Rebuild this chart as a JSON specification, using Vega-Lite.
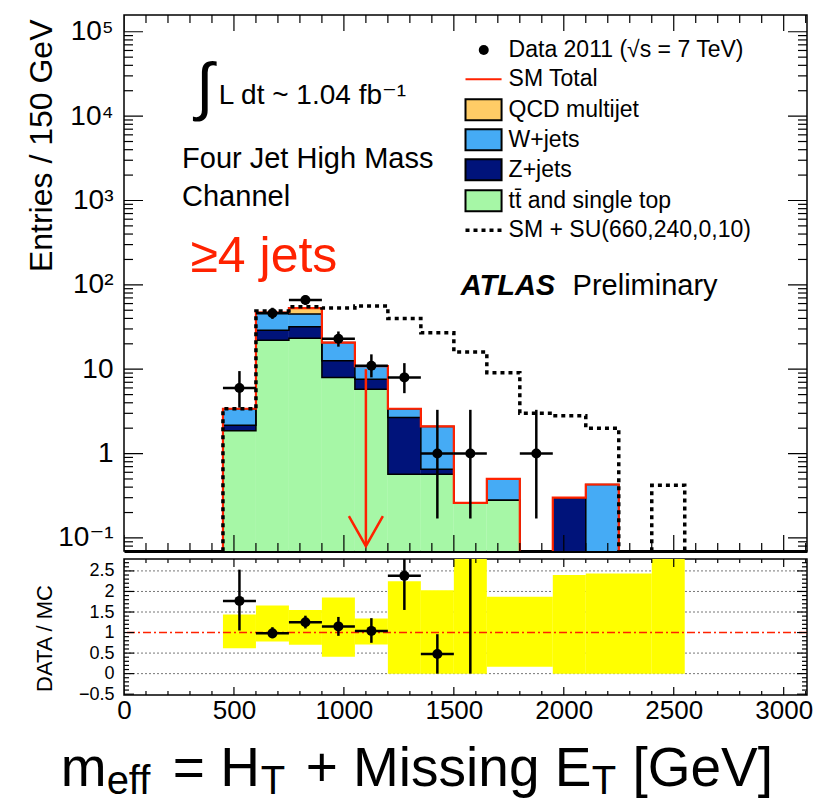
{
  "$schema": "https://vega.github.io/schema/vega-lite/v6.json",
  "padding": {"left": 24, "top": 14, "right": 0, "bottom": 0},
  "spacing": 8,
  "bounds": "flush",
  "config": {
    "font": "Liberation Sans, DejaVu Sans",
    "view": {"stroke": "#000", "strokeWidth": 1.5},
    "axis": {"grid": false, "domain": false, "ticks": false, "zindex": 1, "labelColor": "#000", "titleColor": "#000", "titleFontWeight": "normal", "labelOverlap": false}
  },
  "datasets": {
    "hist": [
      {"x0": 450, "x1": 600, "c": "tt", "lo": 0.01, "hi": 1.86},
      {"x0": 450, "x1": 600, "c": "Z", "lo": 1.86, "hi": 2.17},
      {"x0": 450, "x1": 600, "c": "W", "lo": 2.17, "hi": 3.4},
      {"x0": 600, "x1": 750, "c": "tt", "lo": 0.01, "hi": 22},
      {"x0": 600, "x1": 750, "c": "Z", "lo": 22, "hi": 29},
      {"x0": 600, "x1": 750, "c": "W", "lo": 29, "hi": 47},
      {"x0": 750, "x1": 900, "c": "tt", "lo": 0.01, "hi": 23.3},
      {"x0": 750, "x1": 900, "c": "Z", "lo": 23.3, "hi": 31.8},
      {"x0": 750, "x1": 900, "c": "W", "lo": 31.8, "hi": 45},
      {"x0": 750, "x1": 900, "c": "QCD", "lo": 45, "hi": 53},
      {"x0": 900, "x1": 1050, "c": "tt", "lo": 0.01, "hi": 8},
      {"x0": 900, "x1": 1050, "c": "Z", "lo": 8, "hi": 12.6},
      {"x0": 900, "x1": 1050, "c": "W", "lo": 12.6, "hi": 20.7},
      {"x0": 1050, "x1": 1200, "c": "tt", "lo": 0.01, "hi": 5.8},
      {"x0": 1050, "x1": 1200, "c": "Z", "lo": 5.8, "hi": 7.6},
      {"x0": 1050, "x1": 1200, "c": "W", "lo": 7.6, "hi": 10.9},
      {"x0": 1200, "x1": 1350, "c": "tt", "lo": 0.01, "hi": 0.57},
      {"x0": 1200, "x1": 1350, "c": "Z", "lo": 0.57, "hi": 2.67},
      {"x0": 1200, "x1": 1350, "c": "W", "lo": 2.67, "hi": 3.4},
      {"x0": 1350, "x1": 1500, "c": "tt", "lo": 0.01, "hi": 0.57},
      {"x0": 1350, "x1": 1500, "c": "Z", "lo": 0.57, "hi": 0.65},
      {"x0": 1350, "x1": 1500, "c": "W", "lo": 0.65, "hi": 2.1},
      {"x0": 1500, "x1": 1650, "c": "tt", "lo": 0.01, "hi": 0.26},
      {"x0": 1650, "x1": 1800, "c": "tt", "lo": 0.01, "hi": 0.28},
      {"x0": 1650, "x1": 1800, "c": "W", "lo": 0.28, "hi": 0.5},
      {"x0": 1950, "x1": 2100, "c": "Z", "lo": 0.01, "hi": 0.3},
      {"x0": 2100, "x1": 2250, "c": "W", "lo": 0.01, "hi": 0.43}
    ],
    "steps": [
      {"s": "tt", "x": 300, "y": 0.01}, {"s": "tt", "x": 450, "y": 1.86}, {"s": "tt", "x": 600, "y": 22}, {"s": "tt", "x": 750, "y": 23.3}, {"s": "tt", "x": 900, "y": 8}, {"s": "tt", "x": 1050, "y": 5.8}, {"s": "tt", "x": 1200, "y": 0.57}, {"s": "tt", "x": 1350, "y": 0.57}, {"s": "tt", "x": 1500, "y": 0.26}, {"s": "tt", "x": 1650, "y": 0.28}, {"s": "tt", "x": 1800, "y": 0.01},
      {"s": "Z", "x": 300, "y": 0.01}, {"s": "Z", "x": 450, "y": 2.17}, {"s": "Z", "x": 600, "y": 29}, {"s": "Z", "x": 750, "y": 31.8}, {"s": "Z", "x": 900, "y": 12.6}, {"s": "Z", "x": 1050, "y": 7.6}, {"s": "Z", "x": 1200, "y": 2.67}, {"s": "Z", "x": 1350, "y": 0.65}, {"s": "Z", "x": 1500, "y": 0.26}, {"s": "Z", "x": 1650, "y": 0.28}, {"s": "Z", "x": 1800, "y": 0.01}, {"s": "Z", "x": 1950, "y": 0.3}, {"s": "Z", "x": 2100, "y": 0.01},
      {"s": "W", "x": 300, "y": 0.01}, {"s": "W", "x": 450, "y": 3.4}, {"s": "W", "x": 600, "y": 47}, {"s": "W", "x": 750, "y": 45}, {"s": "W", "x": 900, "y": 20.7}, {"s": "W", "x": 1050, "y": 10.9}, {"s": "W", "x": 1200, "y": 3.4}, {"s": "W", "x": 1350, "y": 2.1}, {"s": "W", "x": 1500, "y": 0.26}, {"s": "W", "x": 1650, "y": 0.5}, {"s": "W", "x": 1800, "y": 0.01}, {"s": "W", "x": 1950, "y": 0.3}, {"s": "W", "x": 2100, "y": 0.43}, {"s": "W", "x": 2250, "y": 0.01},
      {"s": "sm", "x": 300, "y": 0.01}, {"s": "sm", "x": 450, "y": 3.4}, {"s": "sm", "x": 600, "y": 47}, {"s": "sm", "x": 750, "y": 53}, {"s": "sm", "x": 900, "y": 20.7}, {"s": "sm", "x": 1050, "y": 10.9}, {"s": "sm", "x": 1200, "y": 3.4}, {"s": "sm", "x": 1350, "y": 2.1}, {"s": "sm", "x": 1500, "y": 0.26}, {"s": "sm", "x": 1650, "y": 0.5}, {"s": "sm", "x": 1800, "y": 0.01}, {"s": "sm", "x": 1950, "y": 0.3}, {"s": "sm", "x": 2100, "y": 0.43}, {"s": "sm", "x": 2250, "y": 0.01},
      {"s": "su", "x": 300, "y": 0.01}, {"s": "su", "x": 450, "y": 3.4}, {"s": "su", "x": 600, "y": 49}, {"s": "su", "x": 750, "y": 55}, {"s": "su", "x": 900, "y": 53}, {"s": "su", "x": 1050, "y": 56}, {"s": "su", "x": 1200, "y": 40}, {"s": "su", "x": 1350, "y": 27}, {"s": "su", "x": 1500, "y": 16}, {"s": "su", "x": 1650, "y": 9.1}, {"s": "su", "x": 1800, "y": 3.0}, {"s": "su", "x": 1950, "y": 2.8}, {"s": "su", "x": 2100, "y": 2.0}, {"s": "su", "x": 2250, "y": 0.01}, {"s": "su", "x": 2400, "y": 0.42}, {"s": "su", "x": 2550, "y": 0.01}
    ],
    "pts": [
      {"x": 525, "a": 450, "b": 600, "n": 6, "lo": 3.5, "hi": 9.5},
      {"x": 675, "a": 600, "b": 750, "n": 46, "lo": 39.5, "hi": 53.5},
      {"x": 825, "a": 750, "b": 900, "n": 66, "lo": 58, "hi": 75},
      {"x": 975, "a": 900, "b": 1050, "n": 23, "lo": 18.5, "hi": 28},
      {"x": 1125, "a": 1050, "b": 1200, "n": 11, "lo": 8, "hi": 15},
      {"x": 1275, "a": 1200, "b": 1350, "n": 8, "lo": 5.2, "hi": 11.8},
      {"x": 1425, "a": 1350, "b": 1500, "n": 1, "lo": 0.17, "hi": 3.3},
      {"x": 1575, "a": 1500, "b": 1650, "n": 1, "lo": 0.17, "hi": 3.3},
      {"x": 1875, "a": 1800, "b": 1950, "n": 1, "lo": 0.17, "hi": 3.3}
    ],
    "rat": [
      {"x": 525, "a": 450, "b": 600, "r": 1.77, "lo": 1.05, "hi": 2.53},
      {"x": 675, "a": 600, "b": 750, "r": 0.98, "lo": 0.86, "hi": 1.13},
      {"x": 825, "a": 750, "b": 900, "r": 1.25, "lo": 1.1, "hi": 1.41},
      {"x": 975, "a": 900, "b": 1050, "r": 1.15, "lo": 0.92, "hi": 1.38},
      {"x": 1125, "a": 1050, "b": 1200, "r": 1.04, "lo": 0.75, "hi": 1.35},
      {"x": 1275, "a": 1200, "b": 1350, "r": 2.38, "lo": 1.55, "hi": 3.2},
      {"x": 1425, "a": 1350, "b": 1500, "r": 0.48, "lo": 0, "hi": 0.96},
      {"x": 1575, "a": 1500, "b": 1650, "r": 3.85, "lo": 0, "hi": 5}
    ],
    "band": [
      {"a": 450, "b": 600, "lo": 0.62, "hi": 1.44},
      {"a": 600, "b": 750, "lo": 0.78, "hi": 1.66},
      {"a": 750, "b": 900, "lo": 0.7, "hi": 1.55},
      {"a": 900, "b": 1050, "lo": 0.41, "hi": 1.85},
      {"a": 1050, "b": 1200, "lo": 0.71, "hi": 1.34},
      {"a": 1200, "b": 1350, "lo": 0, "hi": 2.25},
      {"a": 1350, "b": 1500, "lo": 0, "hi": 2.03},
      {"a": 1500, "b": 1650, "lo": 0, "hi": 3.5},
      {"a": 1650, "b": 1950, "lo": 0.17, "hi": 1.87},
      {"a": 1950, "b": 2100, "lo": 0, "hi": 2.4},
      {"a": 2100, "b": 2400, "lo": 0, "hi": 2.44},
      {"a": 2400, "b": 2550, "lo": 0, "hi": 3.5}
    ],
    "grid": [{"g": 0}, {"g": 0.5}, {"g": 1.5}, {"g": 2}, {"g": 2.5}],
    "xt": [{"v":0},{"v":100},{"v":200},{"v":300},{"v":400},{"v":500},{"v":600},{"v":700},{"v":800},{"v":900},{"v":1000},{"v":1100},{"v":1200},{"v":1300},{"v":1400},{"v":1500},{"v":1600},{"v":1700},{"v":1800},{"v":1900},{"v":2000},{"v":2100},{"v":2200},{"v":2300},{"v":2400},{"v":2500},{"v":2600},{"v":2700},{"v":2800},{"v":2900},{"v":3000},{"v":3100}],
    "yt": [{"v":0.08},{"v":0.09},{"v":0.1},{"v":0.2},{"v":0.3},{"v":0.4},{"v":0.5},{"v":0.6},{"v":0.7},{"v":0.8},{"v":0.9},{"v":1},{"v":2},{"v":3},{"v":4},{"v":5},{"v":6},{"v":7},{"v":8},{"v":9},{"v":10},{"v":20},{"v":30},{"v":40},{"v":50},{"v":60},{"v":70},{"v":80},{"v":90},{"v":100},{"v":200},{"v":300},{"v":400},{"v":500},{"v":600},{"v":700},{"v":800},{"v":900},{"v":1000},{"v":2000},{"v":3000},{"v":4000},{"v":5000},{"v":6000},{"v":7000},{"v":8000},{"v":9000},{"v":10000},{"v":20000},{"v":30000},{"v":40000},{"v":50000},{"v":60000},{"v":70000},{"v":80000},{"v":90000},{"v":100000}],
    "rt": [{"v":-0.5},{"v":-0.4},{"v":-0.3},{"v":-0.2},{"v":-0.1},{"v":0},{"v":0.1},{"v":0.2},{"v":0.3},{"v":0.4},{"v":0.5},{"v":0.6},{"v":0.7},{"v":0.8},{"v":0.9},{"v":1},{"v":1.1},{"v":1.2},{"v":1.3},{"v":1.4},{"v":1.5},{"v":1.6},{"v":1.7},{"v":1.8},{"v":1.9},{"v":2},{"v":2.1},{"v":2.2},{"v":2.3},{"v":2.4},{"v":2.5},{"v":2.6},{"v":2.7}]
  },
  "vconcat": [
    {
      "width": 683,
      "height": 536,
      "data": {"values": [{}]},
      "resolve": {"axis": {"x": "independent", "y": "independent"}},
      "layer": [
        {
          "layer": [
            {
              "data": {"name": "hist"},
              "mark": {"type": "rect", "clip": true},
              "encoding": {
                "x": {"field": "x0", "type": "quantitative", "scale": {"domain": [0, 3106], "nice": false, "zero": false},
                  "axis": {"orient": "bottom", "values": [0, 500, 1000, 1500, 2000, 2500, 3000], "labels": false, "ticks": false, "title": null, "domain": true, "domainWidth": 3, "domainColor": "#000"}},
                "x2": {"field": "x1"},
                "y": {"field": "lo", "type": "quantitative", "scale": {"type": "log", "domain": [0.07, 158000], "nice": false},
                  "axis": {"orient": "left", "values": [0.1, 1, 10, 100, 1000, 10000, 100000], "ticks": false,
                    "labelExpr": "abs(datum.value-100000)<1 ? '10⁵' : abs(datum.value-10000)<1 ? '10⁴' : abs(datum.value-1000)<0.5 ? '10³' : abs(datum.value-100)<0.5 ? '10²' : abs(datum.value-10)<0.05 ? '10' : abs(datum.value-1)<0.005 ? '1' : '10⁻¹'",
                    "labelFontSize": 28, "labelPadding": 11, "labelOverlap": false,
                    "title": "Entries / 150 GeV", "titleFontSize": 32, "titleAngle": 270, "titleX": -83, "titleY": 4, "titleAlign": "right", "titleBaseline": "middle"}},
                "y2": {"field": "hi"},
                "color": {"field": "c", "type": "nominal", "scale": {"domain": ["tt", "Z", "W", "QCD"], "range": ["#a6f7a6", "#00137a", "#45abf5", "#ffcc66"]}, "legend": null}
              }
            },
            {
              "data": {"name": "steps"},
              "transform": [{"filter": "datum.s != 'su' && datum.s != 'sm'"}],
              "mark": {"type": "line", "interpolate": "step-after", "clip": true, "color": "#000", "strokeWidth": 1.5},
              "encoding": {"x": {"field": "x", "type": "quantitative"}, "y": {"field": "y", "type": "quantitative"}, "detail": {"field": "s"}}
            },
            {
              "data": {"name": "steps"},
              "transform": [{"filter": "datum.s == 'sm'"}],
              "mark": {"type": "line", "interpolate": "step-after", "clip": true, "color": "#ff2200", "strokeWidth": 2.2},
              "encoding": {"x": {"field": "x", "type": "quantitative"}, "y": {"field": "y", "type": "quantitative"}}
            },
            {
              "data": {"name": "xt"}, "transform": [{"filter": "datum.v % 500 == 0"}],
              "mark": {"type": "tick", "orient": "vertical", "size": 32, "thickness": 1.2, "color": "#000", "opacity": 1, "clip": true},
              "encoding": {"x": {"field": "v", "type": "quantitative"}, "y": {"datum": 0.07}}
            },
            {
              "data": {"name": "xt"}, "transform": [{"filter": "datum.v % 500 != 0"}],
              "mark": {"type": "tick", "orient": "vertical", "size": 16, "thickness": 1.2, "color": "#000", "opacity": 1, "clip": true},
              "encoding": {"x": {"field": "v", "type": "quantitative"}, "y": {"datum": 0.07}}
            },
            {
              "data": {"name": "xt"}, "transform": [{"filter": "datum.v % 500 == 0"}],
              "mark": {"type": "tick", "orient": "vertical", "size": 32, "thickness": 1.2, "color": "#000", "opacity": 1, "clip": true},
              "encoding": {"x": {"field": "v", "type": "quantitative"}, "y": {"datum": 158000}}
            },
            {
              "data": {"name": "xt"}, "transform": [{"filter": "datum.v % 500 != 0"}],
              "mark": {"type": "tick", "orient": "vertical", "size": 16, "thickness": 1.2, "color": "#000", "opacity": 1, "clip": true},
              "encoding": {"x": {"field": "v", "type": "quantitative"}, "y": {"datum": 158000}}
            },
            {
              "data": {"name": "yt"}, "transform": [{"filter": "abs(log(datum.v)/LN10 - round(log(datum.v)/LN10)) < 0.001"}],
              "mark": {"type": "tick", "orient": "horizontal", "size": 38, "thickness": 1.2, "color": "#000", "opacity": 1, "clip": true},
              "encoding": {"y": {"field": "v", "type": "quantitative"}, "x": {"datum": 0}}
            },
            {
              "data": {"name": "yt"}, "transform": [{"filter": "abs(log(datum.v)/LN10 - round(log(datum.v)/LN10)) >= 0.001"}],
              "mark": {"type": "tick", "orient": "horizontal", "size": 18, "thickness": 1.2, "color": "#000", "opacity": 1, "clip": true},
              "encoding": {"y": {"field": "v", "type": "quantitative"}, "x": {"datum": 0}}
            },
            {
              "data": {"name": "yt"}, "transform": [{"filter": "abs(log(datum.v)/LN10 - round(log(datum.v)/LN10)) < 0.001"}],
              "mark": {"type": "tick", "orient": "horizontal", "size": 38, "thickness": 1.2, "color": "#000", "opacity": 1, "clip": true},
              "encoding": {"y": {"field": "v", "type": "quantitative"}, "x": {"datum": 3106}}
            },
            {
              "data": {"name": "yt"}, "transform": [{"filter": "abs(log(datum.v)/LN10 - round(log(datum.v)/LN10)) >= 0.001"}],
              "mark": {"type": "tick", "orient": "horizontal", "size": 18, "thickness": 1.2, "color": "#000", "opacity": 1, "clip": true},
              "encoding": {"y": {"field": "v", "type": "quantitative"}, "x": {"datum": 3106}}
            },
            {
              "data": {"name": "pts"},
              "mark": {"type": "rule", "clip": true, "color": "#000", "strokeWidth": 2.5},
              "encoding": {"x": {"field": "x", "type": "quantitative"}, "y": {"field": "lo", "type": "quantitative"}, "y2": {"field": "hi"}}
            },
            {
              "data": {"name": "pts"},
              "mark": {"type": "rule", "clip": true, "color": "#000", "strokeWidth": 2.5},
              "encoding": {"x": {"field": "a", "type": "quantitative"}, "x2": {"field": "b"}, "y": {"field": "n", "type": "quantitative"}}
            },
            {
              "data": {"name": "pts"},
              "mark": {"type": "point", "filled": true, "color": "#000", "size": 100, "opacity": 1},
              "encoding": {"x": {"field": "x", "type": "quantitative"}, "y": {"field": "n", "type": "quantitative"}}
            },
            {
              "mark": {"type": "rule", "color": "#ff2200", "strokeWidth": 2.5},
              "encoding": {"x": {"datum": 1100}, "y": {"datum": 10}, "y2": {"datum": 0.08}}
            },
            {
              "mark": {"type": "point", "shape": "M-1,-1.76L0,0L1,-1.76", "filled": false, "color": "#ff2200", "strokeWidth": 2.5, "size": 1156, "opacity": 1},
              "encoding": {"x": {"datum": 1100}, "y": {"datum": 0.08}}
            },
            {"mark": {"type": "text", "text": "∫", "fontSize": 64, "align": "center", "baseline": "middle"}, "encoding": {"x": {"datum": 367}, "y": {"datum": 21000}}},
            {"mark": {"type": "text", "text": "L dt ~ 1.04 fb⁻¹", "fontSize": 28, "align": "left", "baseline": "middle"}, "encoding": {"x": {"datum": 431}, "y": {"datum": 17300}}},
            {"mark": {"type": "text", "text": "Four Jet High Mass", "fontSize": 29, "align": "left", "baseline": "middle"}, "encoding": {"x": {"datum": 264}, "y": {"datum": 3100}}},
            {"mark": {"type": "text", "text": "Channel", "fontSize": 29, "align": "left", "baseline": "middle"}, "encoding": {"x": {"datum": 264}, "y": {"datum": 1100}}},
            {"mark": {"type": "text", "text": "≥4 jets", "fontSize": 50, "align": "left", "baseline": "middle", "color": "#ff2200"}, "encoding": {"x": {"datum": 302}, "y": {"datum": 214}}},
            {"mark": {"type": "text", "text": "ATLAS", "fontSize": 29, "fontWeight": "bold", "fontStyle": "italic", "align": "left", "baseline": "middle"}, "encoding": {"x": {"datum": 1531}, "y": {"datum": 97}}},
            {"mark": {"type": "text", "text": "Preliminary", "fontSize": 29, "align": "left", "baseline": "middle"}, "encoding": {"x": {"datum": 2040}, "y": {"datum": 97}}},
            {"mark": {"type": "point", "filled": true, "color": "#000", "size": 100, "opacity": 1}, "encoding": {"x": {"datum": 1636}, "y": {"datum": 60800}}},
            {"mark": {"type": "rule", "color": "#ff2200", "strokeWidth": 2}, "encoding": {"x": {"datum": 1553}, "x2": {"datum": 1717}, "y": {"datum": 27400}}},
            {"mark": {"type": "rect", "fill": "#ffcc66", "stroke": "#000", "strokeWidth": 2}, "encoding": {"x": {"datum": 1553}, "x2": {"datum": 1717}, "y": {"datum": 8960}, "y2": {"datum": 15890}}},
            {"mark": {"type": "rect", "fill": "#45abf5", "stroke": "#000", "strokeWidth": 2}, "encoding": {"x": {"datum": 1553}, "x2": {"datum": 1717}, "y": {"datum": 3950}, "y2": {"datum": 7006}}},
            {"mark": {"type": "rect", "fill": "#00137a", "stroke": "#000", "strokeWidth": 2}, "encoding": {"x": {"datum": 1553}, "x2": {"datum": 1717}, "y": {"datum": 1740}, "y2": {"datum": 3087}}},
            {"mark": {"type": "rect", "fill": "#a6f7a6", "stroke": "#000", "strokeWidth": 2}, "encoding": {"x": {"datum": 1553}, "x2": {"datum": 1717}, "y": {"datum": 747}, "y2": {"datum": 1326}}},
            {"mark": {"type": "rule", "color": "#000", "strokeWidth": 3.5, "strokeDash": [4, 4]}, "encoding": {"x": {"datum": 1553}, "x2": {"datum": 1717}, "y": {"datum": 444}}},
            {"mark": {"type": "text", "text": "Data 2011 (√s = 7 TeV)", "fontSize": 23, "align": "left", "baseline": "middle"}, "encoding": {"x": {"datum": 1749}, "y": {"datum": 60800}}},
            {"mark": {"type": "text", "text": "SM Total", "fontSize": 23, "align": "left", "baseline": "middle"}, "encoding": {"x": {"datum": 1749}, "y": {"datum": 27400}}},
            {"mark": {"type": "text", "text": "QCD multijet", "fontSize": 23, "align": "left", "baseline": "middle"}, "encoding": {"x": {"datum": 1749}, "y": {"datum": 11930}}},
            {"mark": {"type": "text", "text": "W+jets", "fontSize": 23, "align": "left", "baseline": "middle"}, "encoding": {"x": {"datum": 1749}, "y": {"datum": 5260}}},
            {"mark": {"type": "text", "text": "Z+jets", "fontSize": 23, "align": "left", "baseline": "middle"}, "encoding": {"x": {"datum": 1749}, "y": {"datum": 2318}}},
            {"mark": {"type": "text", "text": "tt̄ and single top", "fontSize": 23, "align": "left", "baseline": "middle"}, "encoding": {"x": {"datum": 1749}, "y": {"datum": 995}}},
            {"mark": {"type": "text", "text": "SM + SU(660,240,0,10)", "fontSize": 23, "align": "left", "baseline": "middle"}, "encoding": {"x": {"datum": 1749}, "y": {"datum": 444}}}
          ]
        },
        {
          "data": {"name": "steps"},
          "transform": [{"filter": "datum.s == 'su'"}],
          "mark": {"type": "line", "interpolate": "step-after", "clip": true, "color": "#000", "strokeWidth": 3.5, "strokeDash": [4, 4]},
          "encoding": {
            "x": {"field": "x", "type": "quantitative", "scale": {"domain": [0, 3106], "nice": false, "zero": false}, "axis": null},
            "y": {"field": "y", "type": "quantitative", "scale": {"type": "log", "domain": [0.07, 158000], "nice": false}, "axis": null}
          }
        }
      ]
    },
    {
      "width": 683,
      "height": 136,
      "data": {"values": [{}]},
      "resolve": {"axis": {"x": "independent", "y": "independent"}},
      "layer": [
        {
          "layer": [
            {
              "data": {"name": "grid"},
              "mark": {"type": "rule", "color": "#777", "strokeDash": [2, 2], "strokeWidth": 1},
              "encoding": {"y": {"field": "g", "type": "quantitative", "scale": {"domain": [-0.52, 2.79], "nice": false, "zero": false}}}
            },
            {
              "data": {"name": "band"},
              "mark": {"type": "rect", "clip": true, "color": "#ffff00"},
              "encoding": {
                "x": {"field": "a", "type": "quantitative", "scale": {"domain": [0, 3106], "nice": false, "zero": false},
                  "axis": {"orient": "top", "values": [0, 500, 1000, 1500, 2000, 2500, 3000], "labels": false, "ticks": false, "domain": false, "title": null}},
                "x2": {"field": "b"},
                "y": {"field": "lo", "type": "quantitative",
                  "axis": {"orient": "right", "values": [0, 1, 2], "labels": false, "ticks": false, "domain": false, "title": null}},
                "y2": {"field": "hi"}
              }
            },
            {
              "mark": {"type": "rule", "color": "#ff2200", "strokeWidth": 1.5, "strokeDash": [8, 3, 2, 3]},
              "encoding": {"y": {"datum": 1}}
            },
            {
              "data": {"name": "xt"}, "transform": [{"filter": "datum.v % 500 == 0"}],
              "mark": {"type": "tick", "orient": "vertical", "size": 16, "thickness": 1.2, "color": "#000", "opacity": 1, "clip": true},
              "encoding": {"x": {"field": "v", "type": "quantitative"}, "y": {"datum": -0.52}}
            },
            {
              "data": {"name": "xt"}, "transform": [{"filter": "datum.v % 500 != 0"}],
              "mark": {"type": "tick", "orient": "vertical", "size": 8, "thickness": 1.2, "color": "#000", "opacity": 1, "clip": true},
              "encoding": {"x": {"field": "v", "type": "quantitative"}, "y": {"datum": -0.52}}
            },
            {
              "data": {"name": "xt"}, "transform": [{"filter": "datum.v % 500 == 0"}],
              "mark": {"type": "tick", "orient": "vertical", "size": 16, "thickness": 1.2, "color": "#000", "opacity": 1, "clip": true},
              "encoding": {"x": {"field": "v", "type": "quantitative"}, "y": {"datum": 2.79}}
            },
            {
              "data": {"name": "xt"}, "transform": [{"filter": "datum.v % 500 != 0"}],
              "mark": {"type": "tick", "orient": "vertical", "size": 8, "thickness": 1.2, "color": "#000", "opacity": 1, "clip": true},
              "encoding": {"x": {"field": "v", "type": "quantitative"}, "y": {"datum": 2.79}}
            },
            {
              "data": {"name": "rt"}, "transform": [{"filter": "abs(datum.v*2 - round(datum.v*2)) < 0.001"}],
              "mark": {"type": "tick", "orient": "horizontal", "size": 20, "thickness": 1.2, "color": "#000", "opacity": 1, "clip": true},
              "encoding": {"y": {"field": "v", "type": "quantitative"}, "x": {"datum": 0}}
            },
            {
              "data": {"name": "rt"}, "transform": [{"filter": "abs(datum.v*2 - round(datum.v*2)) >= 0.001"}],
              "mark": {"type": "tick", "orient": "horizontal", "size": 10, "thickness": 1.2, "color": "#000", "opacity": 1, "clip": true},
              "encoding": {"y": {"field": "v", "type": "quantitative"}, "x": {"datum": 0}}
            },
            {
              "data": {"name": "rt"}, "transform": [{"filter": "abs(datum.v*2 - round(datum.v*2)) < 0.001"}],
              "mark": {"type": "tick", "orient": "horizontal", "size": 20, "thickness": 1.2, "color": "#000", "opacity": 1, "clip": true},
              "encoding": {"y": {"field": "v", "type": "quantitative"}, "x": {"datum": 3106}}
            },
            {
              "data": {"name": "rt"}, "transform": [{"filter": "abs(datum.v*2 - round(datum.v*2)) >= 0.001"}],
              "mark": {"type": "tick", "orient": "horizontal", "size": 10, "thickness": 1.2, "color": "#000", "opacity": 1, "clip": true},
              "encoding": {"y": {"field": "v", "type": "quantitative"}, "x": {"datum": 3106}}
            },
            {
              "data": {"name": "rat"},
              "mark": {"type": "rule", "clip": true, "color": "#000", "strokeWidth": 2.5},
              "encoding": {"x": {"field": "x", "type": "quantitative"}, "y": {"field": "lo", "type": "quantitative"}, "y2": {"field": "hi"}}
            },
            {
              "data": {"name": "rat"},
              "mark": {"type": "rule", "clip": true, "color": "#000", "strokeWidth": 2.5},
              "encoding": {"x": {"field": "a", "type": "quantitative"}, "x2": {"field": "b"}, "y": {"field": "r", "type": "quantitative"}}
            },
            {"mark": {"type": "text", "text": "m", "fontSize": 55, "align": "left", "baseline": "alphabetic"}, "encoding": {"x": {"datum": -288}, "y": {"datum": -2.74}}},
            {"mark": {"type": "text", "text": "eff", "fontSize": 40, "align": "left", "baseline": "alphabetic"}, "encoding": {"x": {"datum": -79}, "y": {"datum": -2.93}}},
            {"mark": {"type": "text", "text": "= H", "fontSize": 55, "align": "left", "baseline": "alphabetic"}, "encoding": {"x": {"datum": 222}, "y": {"datum": -2.74}}},
            {"mark": {"type": "text", "text": "T", "fontSize": 40, "align": "left", "baseline": "alphabetic"}, "encoding": {"x": {"datum": 622}, "y": {"datum": -2.93}}},
            {"mark": {"type": "text", "text": "+ Missing E", "fontSize": 55, "align": "left", "baseline": "alphabetic"}, "encoding": {"x": {"datum": 826}, "y": {"datum": -2.74}}},
            {"mark": {"type": "text", "text": "T", "fontSize": 40, "align": "left", "baseline": "alphabetic"}, "encoding": {"x": {"datum": 2127}, "y": {"datum": -2.93}}},
            {"mark": {"type": "text", "text": "[GeV]", "fontSize": 55, "align": "left", "baseline": "alphabetic"}, "encoding": {"x": {"datum": 2312}, "y": {"datum": -2.74}}}
          ]
        },
        {
          "data": {"name": "rat"},
          "mark": {"type": "point", "filled": true, "color": "#000", "size": 100, "opacity": 1, "clip": true},
          "encoding": {
            "x": {"field": "x", "type": "quantitative", "scale": {"domain": [0, 3106], "nice": false, "zero": false},
              "axis": {"orient": "bottom", "values": [0, 500, 1000, 1500, 2000, 2500, 3000], "ticks": false,
                "format": "d", "labelFontSize": 26, "labelPadding": 2, "labelFlush": false, "labelOverlap": false, "title": null}},
            "y": {"field": "r", "type": "quantitative", "scale": {"domain": [-0.52, 2.79], "nice": false, "zero": false},
              "axis": {"orient": "left", "values": [-0.5, 0, 0.5, 1, 1.5, 2, 2.5], "ticks": false,
                "format": ".1~f", "labelFontSize": 18, "labelPadding": 10, "labelOverlap": false,
                "title": "DATA / MC", "titleFontSize": 22, "titleAngle": 270, "titleX": -80, "titleY": 79, "titleAlign": "center", "titleBaseline": "middle"}}
          }
        }
      ]
    }
  ]
}
